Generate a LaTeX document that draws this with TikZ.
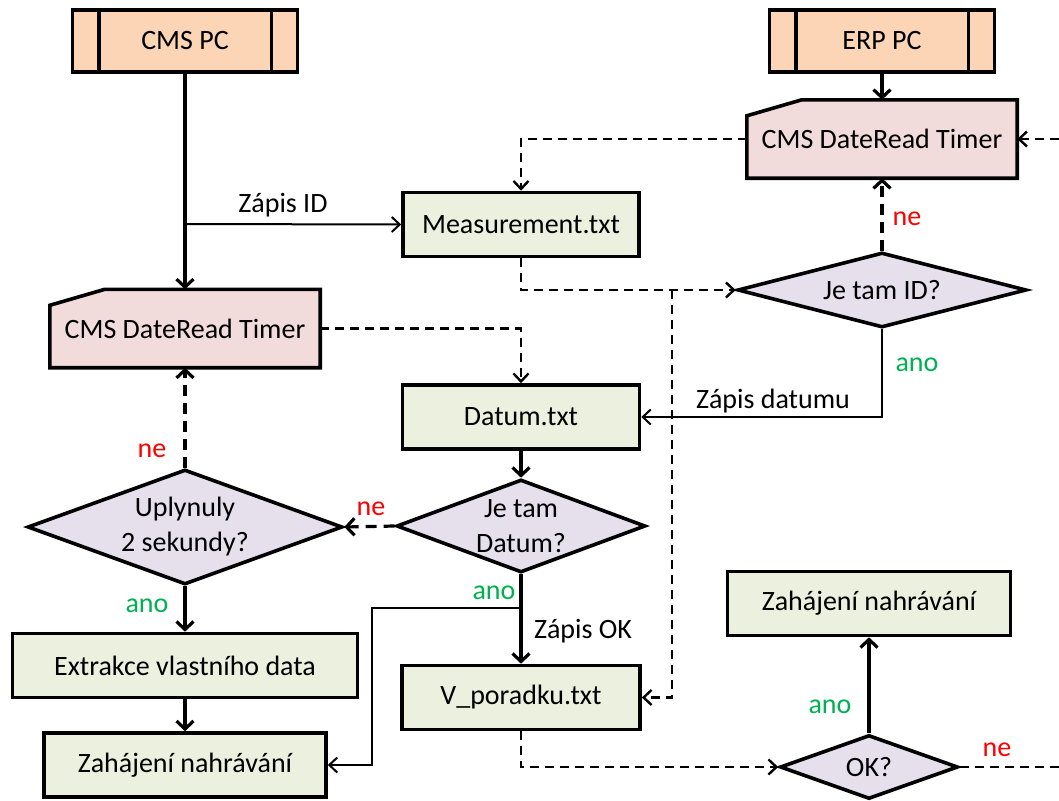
\documentclass[tikz,border=0pt]{standalone}
\usepackage{fontspec}
\setmainfont{Carlito}
\usetikzlibrary{arrows.meta,shapes.geometric,backgrounds}

\definecolor{peach}{HTML}{FBD5B5}
\definecolor{timerpink}{HTML}{F2DCDB}
\definecolor{procgreen}{HTML}{EBF1DE}
\definecolor{decpurple}{HTML}{E5E0EC}
\definecolor{anogreen}{HTML}{00B050}
\definecolor{nered}{HTML}{FF0000}

\begin{document}
\begin{tikzpicture}[x=1pt,y=-1pt,
  every node/.style={font=\fontsize{28}{35}\selectfont, text=black},
  box/.style={draw, rectangle, line width=3.6pt, inner sep=0pt},
  predef/.style={box, fill=peach, minimum width=225pt, minimum height=62pt},
  proc/.style={box, fill=procgreen, minimum height=64pt},
  timer/.style={rectangle, inner sep=0pt, minimum width=270pt, minimum height=78pt},
  decision/.style={diamond, draw, line width=3.6pt, fill=decpurple, inner sep=0pt, align=center},
  flow/.style={line width=3.2pt, -{Straight Barb[length=8pt,width=17pt]}},
  link/.style={line width=2pt, -{Straight Barb[length=8pt,width=15pt]}},
  flowdash/.style={flow, dash pattern=on 11pt off 7pt},
  linkdash/.style={link, line width=2.4pt, dash pattern=on 9pt off 6pt},
  lbl/.style={anchor=base},
  yes/.style={lbl, text=anogreen},
  no/.style={lbl, text=nered}]

\useasboundingbox (0,0) rectangle (1059,800);
\clip (0,0) rectangle (1059,800);

% ---- blocks ----
\node[predef] (cms) at (185,41) {CMS PC};
\node[predef] (erp) at (882,41) {ERP PC};
\node[timer] (tr) at (882,139) {CMS DateRead Timer};
\node[proc, minimum width=236pt] (meas) at (521,224.5) {Measurement.txt};
\node[timer] (tl) at (185,328.5) {CMS DateRead Timer};
\node[proc, minimum width=237pt] (dat) at (521,417) {Datum.txt};
\node[decision, minimum width=289pt, minimum height=75pt, aspect=3.85] (id) at (882,290) {Je tam ID?};
\node[decision, minimum width=315pt, minimum height=115pt, aspect=2.7] (up) at (185,527) {Uplynuly\\2 sekundy?};
\node[decision, minimum width=249pt, minimum height=93pt, aspect=2.7] (dd) at (521,526) {Je tam\\Datum?};
\node[proc, minimum width=345pt] (ext) at (185,665.5) {Extrakce vlastního data};
\node[proc, minimum width=282pt] (zl) at (185,765) {Zahájení nahrávání};
\node[proc, minimum width=238pt] (vpo) at (521,697.5) {V\_poradku.txt};
\node[proc, minimum width=283pt] (zr) at (869,603.5) {Zahájení nahrávání};
\node[decision, minimum width=178pt, minimum height=64pt, aspect=2.8] (ok) at (869,767) {OK?};

% side bars of the predefined-process boxes
\foreach \n in {cms,erp}{
  \draw[line width=3.6pt] ([xshift=28pt]\n.north west) -- ([xshift=28pt]\n.south west);
  \draw[line width=3.6pt] ([xshift=-28pt]\n.north east) -- ([xshift=-28pt]\n.south east);
}

% card outlines of the timers
\begin{scope}[on background layer]
\foreach \n in {tr,tl}{
  \draw[line width=3.6pt, fill=timerpink]
    ([yshift=-16pt]\n.north west) -- ([xshift=55pt]\n.north west)
    -- (\n.north east) -- (\n.south east) -- (\n.south west) -- cycle;
}
\end{scope}

% ---- helper points ----
\coordinate (zid) at (185,224);
\coordinate (redge) at (1059,139);
\coordinate (br) at (672,290);
\coordinate (bra) at (521,608);
\coordinate (bend) at (372,608);
\coordinate (redge2) at (1059,767);

% ---- connectors ----
\draw[flow] (cms.south) -- (tl.north);
\draw[link] (zid) -- (meas.west);
\draw[flow] (erp.south) -- (tr.north);
\draw[linkdash] (redge) -- (tr.east);
\draw[linkdash] (tr.west) -| (meas.north);
\draw[linkdash] (meas.south) |- (id.west);
\draw[linkdash] (br) |- (vpo.east);
\draw[linkdash] (tl.east) -| (dat.north);
\draw[flowdash] (id.north) -- (tr.south);
\draw[link] (id.south) |- (dat.east);
\draw[flow] (dat.south) -- (dd.north);
\draw[flowdash] (dd.west) -- (up.east);
\draw[flowdash] (up.north) -- (tl.south);
\draw[flow] (up.south) -- (ext.north);
\draw[flow] (ext.south) -- (zl.north);
\draw[flow] (dd.south) -- (vpo.north);
\draw[link] (bra) -- (bend) |- (zl.east);
\draw[linkdash] (vpo.south) |- (ok.west);
\draw[flow] (ok.north) -- (zr.south);
\draw[linkdash, -] (ok.east) -- (redge2);

% ---- labels ----
\node[lbl] (lzid) at (283,212) {Zápis ID};
\node[no] (ne1) at (907,225) {ne};
\node[yes] (ano1) at (917,371) {ano};
\node[lbl] (lzdat) at (773,408) {Zápis datumu};
\node[no] (ne2) at (371,515) {ne};
\node[no] (ne3) at (152,457) {ne};
\node[yes] (ano2) at (147,612) {ano};
\node[yes] (ano3) at (494,599) {ano};
\node[lbl] (lzok) at (583,638) {Zápis OK};
\node[yes] (ano4) at (830,713) {ano};
\node[no] (ne4) at (997,756) {ne};
\end{tikzpicture}
\end{document}
